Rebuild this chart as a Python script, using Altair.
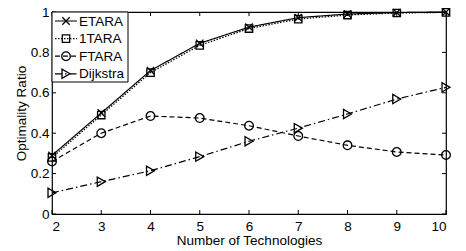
import altair as alt
import pandas as pd

x_vals = [2, 3, 4, 5, 6, 7, 8, 9, 10]
etara = [0.29, 0.50, 0.71, 0.845, 0.925, 0.972, 0.99, 0.997, 1.0]
onetara = [0.28, 0.49, 0.70, 0.835, 0.918, 0.965, 0.985, 0.995, 0.998]
ftara = [0.26, 0.40, 0.485, 0.475, 0.437, 0.386, 0.34, 0.307, 0.292]
dijkstra = [0.105, 0.16, 0.214, 0.284, 0.36, 0.425, 0.495, 0.569, 0.627]

names = ["ETARA", "1TARA", "FTARA", "Dijkstra"]
series = [etara, onetara, ftara, dijkstra]
shapes = ["M-1,-1L1,1M-1,1L1,-1", "square", "circle", "triangle-right"]
sizes = [55, 55, 75, 85]
dashes = [[1, 0], [1.5, 1.5], [5, 3], [7, 3, 1.5, 3]]

x_ticks = [2, 3, 4, 5, 6, 7, 8, 9, 10]
y_ticks = [0, 0.2, 0.4, 0.6, 0.8, 1]

W, H = 394, 202
FONT = "Liberation Sans"
FS = 13.5

xs = alt.Scale(domain=[2, 10], nice=False)
ys = alt.Scale(domain=[0, 1], nice=False)

layers = []

# axes (labels + titles only)
axes_df = pd.DataFrame({"x": [2], "y": [0]})
base_axes = alt.Chart(axes_df).mark_point(opacity=0).encode(
    x=alt.X("x:Q", scale=xs, title="Number of Technologies",
            axis=alt.Axis(values=x_ticks, tickSize=0, domain=False, grid=False,
                          labelPadding=5, titlePadding=1, format="d")),
    y=alt.Y("y:Q", scale=ys, title="Optimality Ratio",
            axis=alt.Axis(values=y_ticks, tickSize=0, domain=False, grid=False,
                          labelPadding=3, titlePadding=2, format="~g")),
)
layers.append(base_axes)

# inward ticks
xt = pd.DataFrame({"t": x_ticks})
yt = pd.DataFrame({"t": y_ticks})
layers.append(alt.Chart(xt).mark_rule(color="black", strokeWidth=1).encode(
    x=alt.X("t:Q", scale=xs), y=alt.value(H), y2=alt.value(H - 4)))
layers.append(alt.Chart(xt).mark_rule(color="black", strokeWidth=1).encode(
    x=alt.X("t:Q", scale=xs), y=alt.value(0), y2=alt.value(4)))
layers.append(alt.Chart(yt).mark_rule(color="black", strokeWidth=1).encode(
    y=alt.Y("t:Q", scale=ys), x=alt.value(0), x2=alt.value(4)))
layers.append(alt.Chart(yt).mark_rule(color="black", strokeWidth=1).encode(
    y=alt.Y("t:Q", scale=ys), x=alt.value(W), x2=alt.value(W - 4)))

for name, vals, shp, sz, dsh in zip(names, series, shapes, sizes, dashes):
    df = pd.DataFrame({"x": x_vals, "y": vals})
    layers.append(alt.Chart(df).mark_line(color="black", strokeWidth=1.2, strokeDash=dsh).encode(
        x=alt.X("x:Q", scale=xs), y=alt.Y("y:Q", scale=ys)))
    layers.append(alt.Chart(df).mark_point(shape=shp, size=sz, filled=False,
                                           color="black", strokeWidth=1.3, opacity=1).encode(
        x=alt.X("x:Q", scale=xs), y=alt.Y("y:Q", scale=ys)))

# legend box
leg = pd.DataFrame({"a": [0]})
layers.append(alt.Chart(leg).mark_rect(fill="white", stroke="black", strokeWidth=1).encode(
    x=alt.value(0), x2=alt.value(76), y=alt.value(0), y2=alt.value(70)))
for i, (name, shp, sz, dsh) in enumerate(zip(names, shapes, sizes, dashes)):
    yy = 9 + 17.6 * i
    d = pd.DataFrame({"name": [name]})
    layers.append(alt.Chart(d).mark_rule(color="black", strokeWidth=1.2, strokeDash=dsh).encode(
        x=alt.value(3), x2=alt.value(25), y=alt.value(yy)))
    layers.append(alt.Chart(d).mark_point(shape=shp, size=sz, filled=False,
                                          color="black", strokeWidth=1.3, opacity=1).encode(
        x=alt.value(14), y=alt.value(yy)))
    layers.append(alt.Chart(d).mark_text(align="left", baseline="middle", font=FONT,
                                         fontSize=FS, color="black").encode(
        x=alt.value(27), y=alt.value(yy + 0.5), text="name:N"))

chart = alt.layer(*layers).properties(
    width=W, height=H, background="white",
    autosize=alt.AutoSizeParams(type="none"),
    padding={"left": 44, "top": 4, "right": 12, "bottom": 37},
).configure_view(stroke="black", strokeWidth=1.2).configure_axis(
    labelFont=FONT, titleFont=FONT, labelFontSize=FS, titleFontSize=FS,
    titleFontWeight="normal", labelColor="black", titleColor="black",
)

chart.save("out.html", embed_options={"renderer": "svg", "actions": False})
